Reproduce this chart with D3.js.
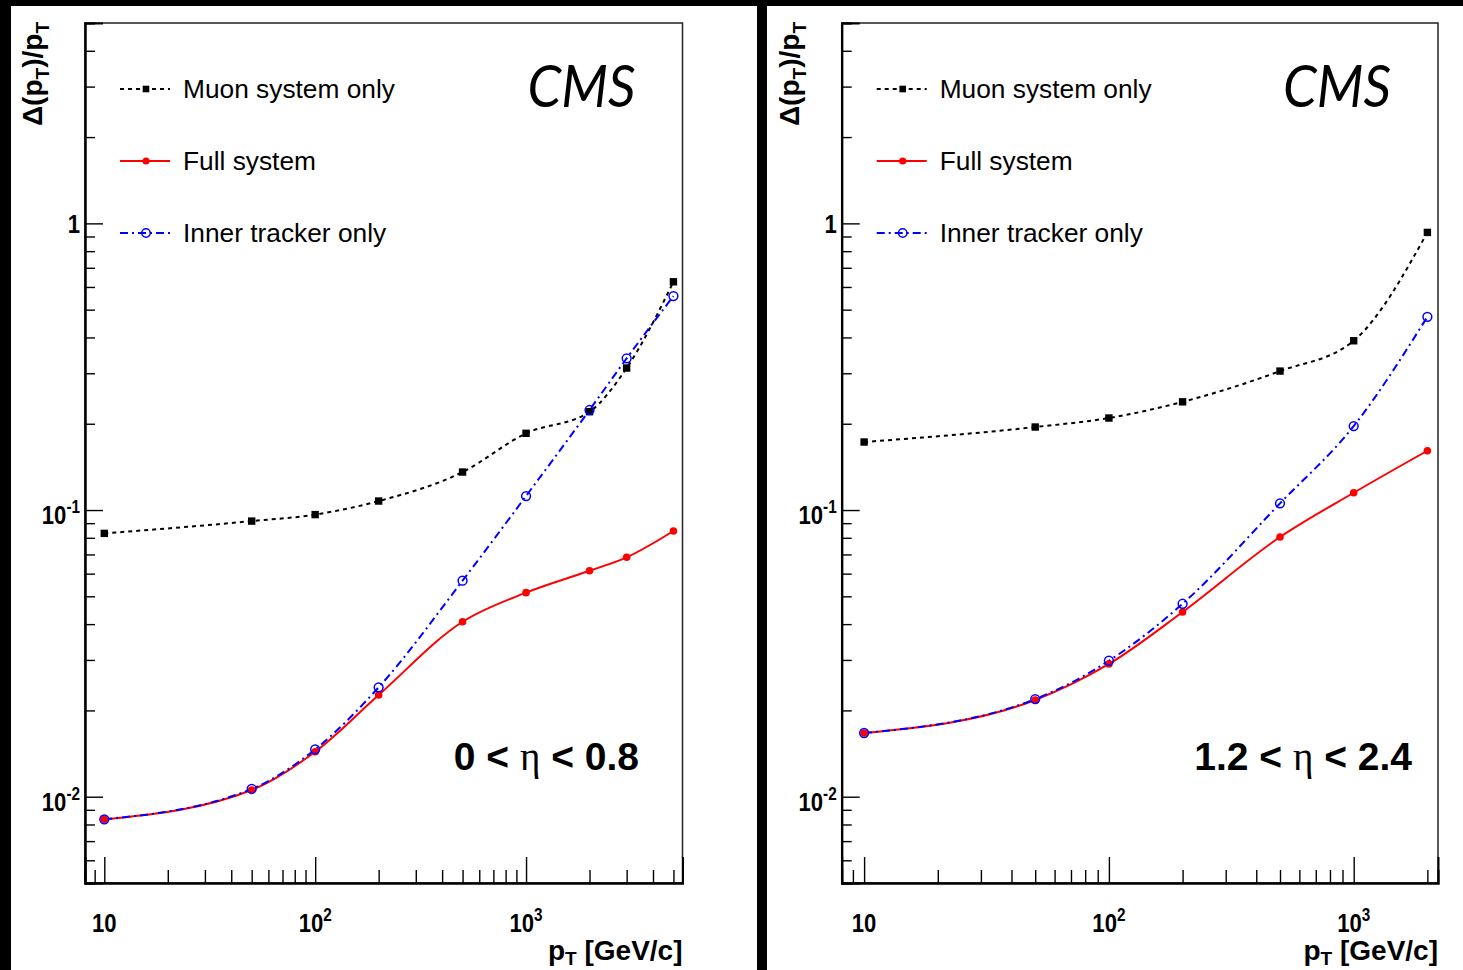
<!DOCTYPE html>
<html>
<head>
<meta charset="utf-8">
<script src="https://cdn.jsdelivr.net/npm/d3@7"></script>
<style>
  body { margin: 0; background: #000; }
  svg { display: block; }
</style>
</head>
<body>
<script>
// pT points and resolution values
const ptLeft = [10, 50, 100, 200, 500, 1000, 2000, 3000, 5000];
const muonLeft = [0.0829, 0.0915, 0.0964, 0.1075, 0.1357, 0.1852, 0.2203, 0.3129, 0.6255];
const fullLeft = [0.00834, 0.01055, 0.01435, 0.02263, 0.04076, 0.0515, 0.0614, 0.0684, 0.0845];
const innerLeft = [0.00834, 0.01064, 0.01463, 0.02407, 0.0567, 0.1119, 0.2233, 0.3382, 0.5577];

const ptRight = [10, 50, 100, 200, 500, 1000, 2000];
const muonRight = [0.1727, 0.1948, 0.2094, 0.2385, 0.3053, 0.3895, 0.930];
const fullRight = [0.01668, 0.02175, 0.02904, 0.0441, 0.0805, 0.1149, 0.161];
const innerRight = [0.01668, 0.0219, 0.0298, 0.0471, 0.1055, 0.1963, 0.4722];

const seriesNames = ['Muon system only', 'Full system', 'Inner tracker only'];
const xMajorTicks = [10, 100, 1000];
const xTickLabels = [['10', ''], ['10', '2'], ['10', '3']];
const yMajorTicks = [1, 0.1, 0.01];
const yTickLabels = [['1', ''], ['10', '-1'], ['10', '-2']];
const etaLabels = [['0 < ', ' < 0.8'], ['1.2 < ', ' < 2.4']];

const W = 1463, H = 970;
const svg = d3.select('body').append('svg')
    .attr('width', W)
    .attr('height', H);

svg.append('rect').attr('width', W).attr('height', H).attr('fill', '#000');
svg.append('rect').attr('x', 11).attr('y', 6).attr('width', 746).attr('height', H - 6).attr('fill', '#fff');
svg.append('rect').attr('x', 767).attr('y', 6).attr('width', W - 767).attr('height', H - 6).attr('fill', '#fff');

const y = d3.scaleLog().domain([0.005, 5]).range([883, 23]);

const styles = [
    { color: '#000', dash: '4,4', marker: 'square' },
    { color: '#ff0000', dash: null, marker: 'dot' },
    { color: '#0000ff', dash: '8,4,2,4', marker: 'open' }
];

function minorTicks(lo, hi) {
    const out = [];
    for (let e = -4; e <= 4; e++) {
        for (let m = 2; m <= 9; m++) {
            const v = m * Math.pow(10, e);
            if (v >= lo && v <= hi) out.push(v);
        }
    }
    return out;
}

function marker(sel, type, color, cx, cy, s) {
    if (type === 'square') {
        sel.append('rect')
            .attr('x', cx - s).attr('y', cy - s)
            .attr('width', 2 * s).attr('height', 2 * s)
            .attr('fill', color);
    } else if (type === 'dot') {
        sel.append('circle').attr('cx', cx).attr('cy', cy).attr('r', s)
            .attr('fill', color);
    } else {
        sel.append('circle').attr('cx', cx).attr('cy', cy).attr('r', s + 0.6)
            .attr('fill', 'none').attr('stroke', color).attr('stroke-width', 1.5);
    }
}

const lblFont = 'Liberation Sans, Arial, sans-serif';

// narrow bold number label ("10", "10^2" ...), squeezed horizontally
function numLabel(g, px, py, anchor, base, sup) {
    const t = g.append('text')
        .attr('transform', `translate(${px},${py}) scale(0.85,1)`)
        .attr('text-anchor', anchor)
        .attr('font-family', lblFont).attr('font-weight', 'bold')
        .attr('font-size', 26);
    t.append('tspan').text(base);
    if (sup) {
        t.append('tspan').attr('dy', -11).attr('font-size', 18).text(sup);
    }
}

function drawPanel(p) {
    const g = svg.append('g');
    const x = d3.scaleLog().domain(p.xDomain).range([p.left, p.right]);
    const top = 23, bottom = 883;

    // frame
    g.append('rect')
        .attr('x', p.left).attr('y', top)
        .attr('width', p.right - p.left).attr('height', bottom - top)
        .attr('fill', 'none').attr('stroke', '#222').attr('stroke-width', 1.5);

    // x axis (ticks pointing inward)
    const xMinor = minorTicks(p.xDomain[0], p.xDomain[1]);
    g.append('g').attr('transform', `translate(0,${bottom})`)
        .call(d3.axisBottom(x).tickValues(xMinor).tickSize(-13).tickFormat(''));
    g.append('g').attr('transform', `translate(0,${bottom})`)
        .call(d3.axisBottom(x).tickValues(xMajorTicks).tickSize(-26).tickFormat(''));

    // y axis
    g.append('g').attr('transform', `translate(${p.left},0)`)
        .call(d3.axisLeft(y).tickValues(minorTicks(0.005, 5)).tickSize(-10).tickFormat(''));
    g.append('g').attr('transform', `translate(${p.left},0)`)
        .call(d3.axisLeft(y).tickValues(yMajorTicks).tickSize(-18).tickFormat(''));

    g.selectAll('.domain').attr('stroke', '#000').attr('stroke-width', 2);
    g.selectAll('.tick line').attr('stroke', '#000').attr('stroke-width', 1.4);

    // tick labels
    xMajorTicks.forEach((v, i) => {
        numLabel(g, x(v), 932, 'middle', xTickLabels[i][0], xTickLabels[i][1]);
    });
    yMajorTicks.forEach((v, i) => {
        const sup = yTickLabels[i][1];
        numLabel(g, p.left - 5, y(v) + (sup ? 14 : 9.5), 'end', yTickLabels[i][0], sup);
    });

    // axis titles
    const xt = g.append('text')
        .attr('x', p.right).attr('y', 960)
        .attr('text-anchor', 'end')
        .attr('font-family', lblFont).attr('font-weight', 'bold')
        .attr('font-size', 28);
    xt.append('tspan').text('p');
    xt.append('tspan').attr('dy', 5).attr('font-size', 19).text('T');
    xt.append('tspan').attr('dy', -5).text(' [GeV/c]');

    const yt = g.append('text')
        .attr('transform', `translate(${p.left - 43},22) rotate(-90)`)
        .attr('text-anchor', 'end')
        .attr('font-family', lblFont).attr('font-weight', 'bold')
        .attr('font-size', 28);
    yt.append('tspan').text('\u0394(p');
    yt.append('tspan').attr('dy', 7).attr('font-size', 19).text('T');
    yt.append('tspan').attr('dy', -7).text(')/p');
    yt.append('tspan').attr('dy', 7).attr('font-size', 19).text('T');

    // curves
    const line = d3.line()
        .x(d => x(d[0]))
        .y(d => y(d[1]))
        .curve(d3.curveMonotoneX);

    const order = [0, 1, 2];
    order.forEach(k => {
        const pts = p.pt.map((v, i) => [v, p.series[k][i]]);
        g.append('path')
            .attr('d', line(pts))
            .attr('fill', 'none')
            .attr('stroke', styles[k].color)
            .attr('stroke-width', 2)
            .attr('stroke-dasharray', styles[k].dash);
    });
    order.forEach(k => {
        const pts = p.pt.map((v, i) => [v, p.series[k][i]]);
        const mg = g.append('g');
        pts.forEach(d => marker(mg, styles[k].marker, styles[k].color, x(d[0]), y(d[1]), k === 0 ? 3.7 : 3.8));
    });

    // legend
    const legY = [89, 161, 233];
    seriesNames.forEach((name, k) => {
        const lx = p.left + 35;
        g.append('line')
            .attr('x1', lx).attr('x2', lx + 50)
            .attr('y1', legY[k]).attr('y2', legY[k])
            .attr('stroke', styles[k].color).attr('stroke-width', 2)
            .attr('stroke-dasharray', styles[k].dash);
        marker(g, styles[k].marker, styles[k].color, lx + 26, legY[k], k === 0 ? 3.3 : 3.6);
        g.append('text')
            .attr('x', p.left + 98).attr('y', legY[k] + 9)
            .attr('font-family', lblFont)
            .attr('font-size', 26.3)
            .text(name);
    });

    // CMS label
    g.append('text')
        .attr('x', p.right - 155).attr('y', 107)
        .attr('font-family', 'Lato, Liberation Sans, sans-serif')
        .attr('font-style', 'italic')
        .attr('font-size', 58)
        .attr('textLength', 108)
        .attr('lengthAdjust', 'spacingAndGlyphs')
        .text('CMS');

    // eta range
    const et = g.append('text')
        .attr('x', p.etaX).attr('y', 770)
        .attr('text-anchor', 'end')
        .attr('font-family', lblFont).attr('font-weight', 'bold')
        .attr('font-size', 39);
    et.append('tspan').text(p.eta[0]);
    et.append('tspan').attr('font-family', 'Liberation Serif, serif').attr('font-weight', 'normal').text('\u03b7');
    et.append('tspan').text(p.eta[1]);
}

drawPanel({
    left: 85, right: 682.5, xDomain: [8.1, 5520],
    pt: ptLeft, series: [muonLeft, fullLeft, innerLeft],
    eta: etaLabels[0], etaX: 639
});
drawPanel({
    left: 841.7, right: 1438, xDomain: [8.1, 2210],
    pt: ptRight, series: [muonRight, fullRight, innerRight],
    eta: etaLabels[1], etaX: 1412
});
</script>
</body>
</html>
